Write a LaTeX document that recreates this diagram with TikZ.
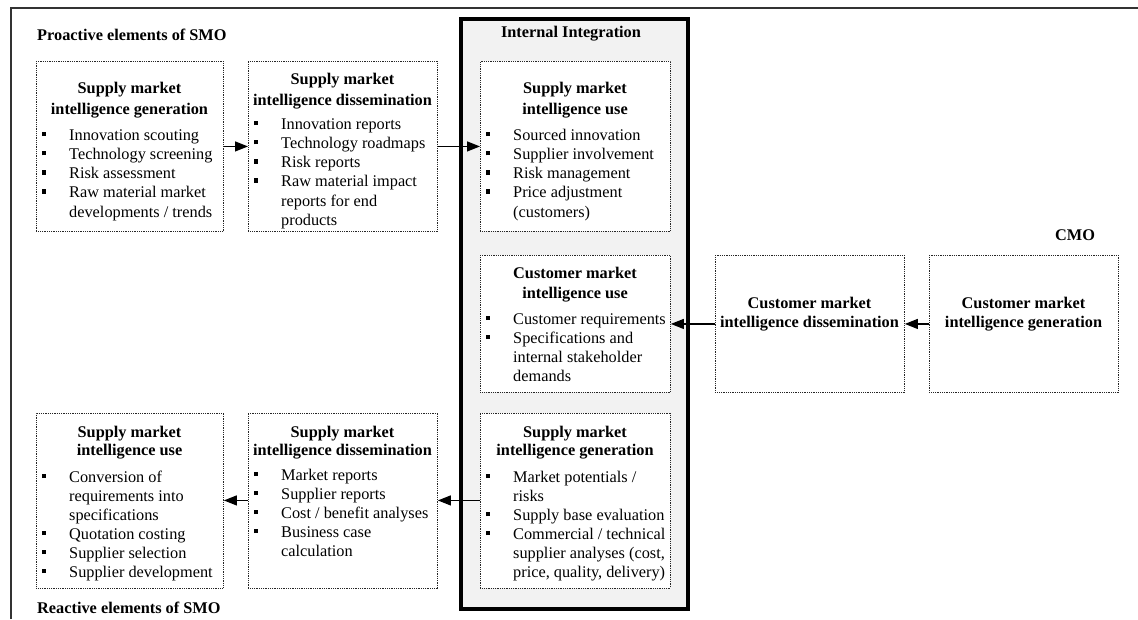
\documentclass[tikz,border=0pt]{standalone}
\usepackage{fontspec}
\setmainfont{Liberation Serif}
\usetikzlibrary{arrows.meta}
% strut fixing the height of a first line, bullet item and continuation line
\newcommand\fstrut{\rule{0pt}{13pt}}
\newcommand\bitem{\makebox[27.5pt][l]{\raisebox{4pt}{\rule{4.5pt}{4.5pt}}}}
\newcommand\bcont{\hspace*{27.5pt}}
\begin{document}
\begin{tikzpicture}[x=1pt,y=-1pt,
  panel/.style={draw=black!85, line width=0.9pt, dash pattern=on 0.9pt off 0.9pt,
                fill=white, inner sep=0pt, anchor=north west},
  heading/.style={font=\fontsize{16.3}{21.5}\selectfont\bfseries, align=center,
                  inner sep=0pt, anchor=north},
  items/.style={font=\fontsize{16.3}{19.2}\selectfont, align=left,
                inner sep=0pt, anchor=north west},
  caption/.style={font=\fontsize{16.3}{19}\selectfont\bfseries, inner sep=0pt},
  flow/.style={-{Triangle[length=13pt,width=10pt]}, line width=1.3pt},
]
\useasboundingbox (0,0) rectangle (1138,619);

% outer frame (top and left edges)
\draw[line width=1.2pt, black!80] (11,619) -- (11,8) -- (1138,8);

% internal integration column
\node[draw, line width=4pt, fill=black!5, minimum width=227pt, minimum height=590pt,
      inner sep=0pt, anchor=north west] (ii) at (459,16.5) {};
\node[caption, anchor=base] (iit) at (571,37.5) {Internal Integration};

% group labels
\node[caption, anchor=base west] (pro) at (37,40) {Proactive elements of SMO};
\node[caption, anchor=base west] (rea) at (37,613) {Reactive elements of SMO};
\node[caption, anchor=base] (cmo) at (1075,240) {CMO};

% ---- proactive row ----
\node[panel, minimum width=187pt, minimum height=170pt] (b1) at (36,61) {};
\node[heading] (b1t) at (129.5,80) {\fstrut Supply market\\intelligence generation};
\node[items] (b1l) at (41.5,127) {\fstrut\bitem Innovation scouting\\
  \bitem Technology screening\\
  \bitem Risk assessment\\
  \bitem Raw material market\\
  \bcont developments / trends};

\node[panel, minimum width=189pt, minimum height=170pt] (b2) at (248,61) {};
\node[heading, font=\fontsize{16.3}{21}\selectfont\bfseries] (b2t) at (342.5,71)
  {\fstrut Supply market\\intelligence dissemination};
\node[items] (b2l) at (253.5,116) {\fstrut\bitem Innovation reports\\
  \bitem Technology roadmaps\\
  \bitem Risk reports\\
  \bitem Raw material impact\\
  \bcont reports for end\\
  \bcont products};

\node[panel, minimum width=190pt, minimum height=170pt] (b3) at (480,61) {};
\node[heading] (b3t) at (575,80) {\fstrut Supply market\\intelligence use};
\node[items] (b3l) at (485.5,127) {\fstrut\bitem Sourced innovation\\
  \bitem Supplier involvement\\
  \bitem Risk management\\
  \bitem Price adjustment\\
  \bcont (customers)};

% ---- customer market row ----
\node[panel, minimum width=190pt, minimum height=137pt] (b4) at (480,255) {};
\node[heading, font=\fontsize{16.3}{20}\selectfont\bfseries] (b4t) at (575,265)
  {\fstrut Customer market\\intelligence use};
\node[items, font=\fontsize{16.3}{19}\selectfont] (b4l) at (485.5,311)
  {\fstrut\bitem Customer requirements\\
  \bitem Specifications and\\
  \bcont internal stakeholder\\
  \bcont demands};

\node[panel, minimum width=189pt, minimum height=137pt] (c1) at (715,255) {};
\node[heading, font=\fontsize{16.3}{19}\selectfont\bfseries] (c1t) at (809.5,295)
  {\fstrut Customer market\\intelligence dissemination};

\node[panel, minimum width=189pt, minimum height=137pt] (c2) at (929,255) {};
\node[heading, font=\fontsize{16.3}{19}\selectfont\bfseries] (c2t) at (1023.5,295)
  {\fstrut Customer market\\intelligence generation};

% ---- reactive row ----
\node[panel, minimum width=190pt, minimum height=175pt] (b5) at (480,412.5) {};
\node[heading, font=\fontsize{16.3}{18.3}\selectfont\bfseries] (b5t) at (575,424)
  {\fstrut Supply market\\intelligence generation};
\node[items, font=\fontsize{16.3}{19}\selectfont] (b5l) at (485.5,469)
  {\fstrut\bitem Market potentials /\\
  \bcont risks\\
  \bitem Supply base evaluation\\
  \bitem Commercial / technical\\
  \bcont supplier analyses (cost,\\
  \bcont price, quality, delivery)};

\node[panel, minimum width=189pt, minimum height=175pt] (a2) at (248,412.5) {};
\node[heading, font=\fontsize{16.3}{18.3}\selectfont\bfseries] (a2t) at (342.5,424)
  {\fstrut Supply market\\intelligence dissemination};
\node[items, font=\fontsize{16.3}{19}\selectfont] (a2l) at (253.5,467)
  {\fstrut\bitem Market reports\\
  \bitem Supplier reports\\
  \bitem Cost / benefit analyses\\
  \bitem Business case\\
  \bcont calculation};

\node[panel, minimum width=187pt, minimum height=175pt] (a1) at (36,412.5) {};
\node[heading, font=\fontsize{16.3}{18.3}\selectfont\bfseries] (a1t) at (129.5,424)
  {\fstrut Supply market\\intelligence use};
\node[items, font=\fontsize{16.3}{19}\selectfont] (a1l) at (41.5,469)
  {\fstrut\bitem Conversion of\\
  \bcont requirements into\\
  \bcont specifications\\
  \bitem Quotation costing\\
  \bitem Supplier selection\\
  \bitem Supplier development};

% ---- flows ----
\draw[flow] (b1.east) -- (b2.west);
\draw[flow] (b2.east) -- (b3.west);
\draw[flow] (c2.west) -- (c1.east);
\draw[flow] (c1.west) -- (b4.east);
\draw[flow] (b5.west) -- (a2.east);
\draw[flow] (a2.west) -- (a1.east);
\end{tikzpicture}
\end{document}
